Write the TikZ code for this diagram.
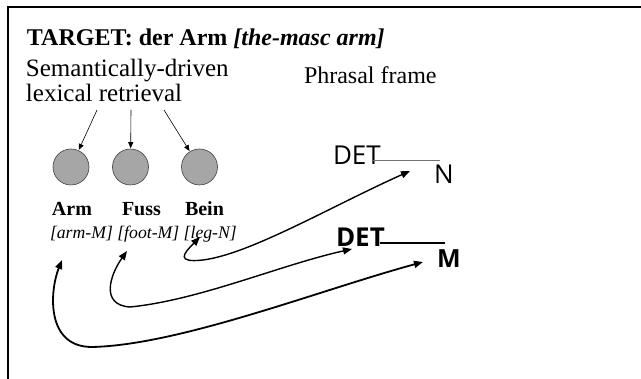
\documentclass[tikz,border=0pt]{standalone}
\usepackage{fontspec}
\setmainfont{Liberation Serif}
\newfontfamily\handfont{Open Sans}
\usetikzlibrary{arrows.meta}
\begin{document}
\begin{tikzpicture}[x=1pt,y=-1pt,
  txt/.style={anchor=base west,inner sep=0pt,outer sep=0pt},
  lexnode/.style={circle,draw=black!75,line width=0.6pt,fill=black!35,
    minimum size=36pt,inner sep=0pt},
  retr/.style={-{Triangle[length=6pt,width=5pt]},line width=0.6pt,shorten >=0.5pt},
  link/.style={{Triangle[length=9pt,width=7pt]}-{Triangle[length=9pt,width=7pt]},
    line width=1.4pt},
  slotline/.style={line width=#1},
]
\useasboundingbox (0,0) rectangle (641,379);
\fill[white] (0,0) rectangle (641,379);
% open frame: top and left edges only
\draw[line width=2.5pt] (8,379) -- (8,7) -- (641,7);

% headings
\node[txt,font=\fontsize{24}{28}\selectfont\bfseries] (title) at (27,46)
  {TARGET: der Arm \textit{[the-masc arm]}};
\node[txt,font=\fontsize{25}{29}\selectfont] (sem1) at (26,77) {Semantically-driven};
\node[txt,font=\fontsize{25}{29}\selectfont] (sem2) at (26,102) {lexical retrieval};
\node[txt,font=\fontsize{24}{29}\selectfont] (phr) at (304,84) {Phrasal frame};

% lexical candidates
\node[lexnode] (c1) at (71,167) {};
\node[lexnode] (c2) at (130.5,167) {};
\node[lexnode] (c3) at (199.5,167) {};
\node[txt,font=\fontsize{20}{24}\selectfont\bfseries] (arm) at (52,216) {Arm};
\node[txt,font=\fontsize{20}{24}\selectfont\bfseries] (fuss) at (122,216) {Fuss};
\node[txt,font=\fontsize{20}{24}\selectfont\bfseries] (bein) at (185,216) {Bein};
\node[txt,font=\fontsize{17.7}{21}\selectfont\itshape] (gloss) at (50,239)
  {[arm-M] [foot-M] [leg-N]};

% retrieval arrows
\coordinate (r1) at (97,110);
\coordinate (r2) at (131,110);
\coordinate (r3) at (164,110);
\draw[retr] (r1) -- (c1);
\draw[retr] (r2) -- (c2);
\draw[retr] (r3) -- (c3);

% phrasal frames
\node[txt,font=\handfont\fontsize{26}{30}\selectfont] (det1) at (333,165) {DET};
\coordinate (s1a) at (373,160);
\coordinate (s1b) at (440,160);
\draw[slotline=0.8pt,black!55] (s1a) -- (s1b);
\node[txt,font=\handfont\fontsize{26}{30}\selectfont] (n1) at (434,184) {N};

\node[txt,font=\handfont\bfseries\fontsize{26}{30}\selectfont] (det2) at (336,247) {DET};
\coordinate (s2a) at (380,243);
\coordinate (s2b) at (445,243);
\draw[slotline=2.5pt] (s2a) -- (s2b);
\node[txt,font=\handfont\bfseries\fontsize{25}{30}\selectfont] (m2) at (437,268) {M};

% links between candidates and frame slots
\coordinate (legtip) at (200,237);
\coordinate (ntip) at (410,171);
\draw[link] (legtip) .. controls (183,254) and (176,263) .. (203,260)
  .. controls (250,254) and (330,207) .. (ntip);

\coordinate (foottip) at (127,251);
\coordinate (dettip) at (352,249);
\draw[link] (foottip) .. controls (110,275) and (100,305) .. (130,307)
  .. controls (200,300) and (280,265) .. (dettip);

\coordinate (armtip) at (62,260);
\coordinate (mtip) at (423,262);
\draw[link,line width=1.8pt] (armtip) .. controls (50,290) and (45,347) .. (92,347)
  .. controls (180,345) and (320,290) .. (mtip);
\end{tikzpicture}
\end{document}
